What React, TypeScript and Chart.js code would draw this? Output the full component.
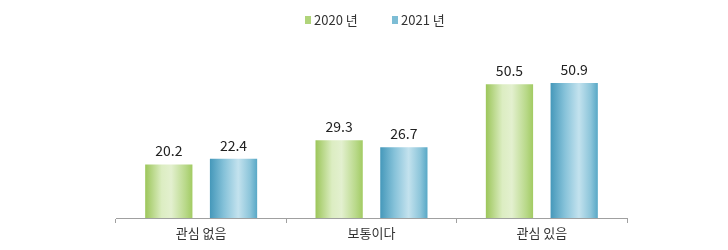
import React, { useEffect, useRef } from "react";
import { Chart, registerables } from "chart.js";

Chart.register(...registerables);

const categories = ["관심 없음", "보통이다", "관심 있음"];
const seriesNames = ["2020 년", "2021 년"];
const values2020 = [20.2, 29.3, 50.5];
const values2021 = [22.4, 26.7, 50.9];

const CAT_PCT = 0.76;
const BAR_PCT = 0.73;
const FONT = "'Noto Sans CJK KR', 'Noto Sans', sans-serif";

const greenStops: [number, string][] = [
  [0, "#9cc65a"],
  [0.35, "#dcedc2"],
  [0.55, "#e3f0cf"],
  [0.85, "#b9d98a"],
  [1, "#a2cb63"],
];
const blueStops: [number, string][] = [
  [0, "#4598ba"],
  [0.3, "#86c2d9"],
  [0.6, "#c3e2ee"],
  [0.85, "#8cc5da"],
  [1, "#58a8c6"],
];

function makeBg(stops: [number, string][], fallback: string) {
  return (ctx: any) => {
    const chart = ctx.chart;
    const xs = chart.scales?.x;
    if (!xs || ctx.dataIndex === undefined) return fallback;
    const n = categories.length;
    const catW = xs.width / n;
    const slot = (catW * CAT_PCT) / 2;
    const barW = slot * BAR_PCT;
    const center = xs.getPixelForValue(ctx.dataIndex) + (ctx.datasetIndex === 0 ? -slot / 2 : slot / 2);
    const x0 = center - barW / 2;
    const x1 = center + barW / 2;
    if (!isFinite(x0) || !isFinite(x1)) return fallback;
    const g = chart.ctx.createLinearGradient(x0, 0, x1, 0);
    stops.forEach(([o, c]) => g.addColorStop(o, c));
    return g;
  };
}

const labelsPlugin = {
  id: "customLabels",
  afterDatasetsDraw(chart: any) {
    const c = chart.ctx;
    c.save();
    c.font = `14px ${FONT}`;
    c.fillStyle = "#222";
    c.textAlign = "center";
    c.textBaseline = "alphabetic";
    chart.data.datasets.forEach((ds: any, di: number) => {
      const meta = chart.getDatasetMeta(di);
      meta.data.forEach((bar: any, i: number) => {
        c.fillText(ds.data[i].toFixed(1), bar.x, bar.y - 8);
      });
    });
    // legend
    const legendColors = ["#b0d47a", "#7dbdd5"];
    const legendX = [305, 392];
    c.font = `13px ${FONT}`;
    c.textAlign = "left";
    c.textBaseline = "middle";
    seriesNames.forEach((name, i) => {
      c.fillStyle = legendColors[i];
      c.fillRect(legendX[i], 16, 6, 8);
      c.fillStyle = "#333";
      c.fillText(name, legendX[i] + 9, 20);
    });
    c.restore();
  },
};

export default function App() {
  const ref = useRef<HTMLCanvasElement | null>(null);
  useEffect(() => {
    if (!ref.current) return;
    const chart = new Chart(ref.current, {
      type: "bar",
      data: {
        labels: categories,
        datasets: [
          {
            label: seriesNames[0],
            data: values2020,
            backgroundColor: makeBg(greenStops, "#b5d684"),
            categoryPercentage: CAT_PCT,
            barPercentage: BAR_PCT,
            borderWidth: 0,
          },
          {
            label: seriesNames[1],
            data: values2021,
            backgroundColor: makeBg(blueStops, "#7dbdd5"),
            categoryPercentage: CAT_PCT,
            barPercentage: BAR_PCT,
            borderWidth: 0,
          },
        ],
      },
      options: {
        animation: false,
        responsive: false,
        maintainAspectRatio: false,
        layout: { padding: { left: 116, right: 101, top: 59, bottom: 0 } },
        plugins: { legend: { display: false }, tooltip: { enabled: false } },
        scales: {
          x: {
            afterFit: (s: any) => {
              s.height = 32;
            },
            grid: {
              offset: true,
              drawOnChartArea: false,
              drawTicks: true,
              tickLength: 5,
              color: "#a0a0a0",
            },
            border: { color: "#a0a0a0", width: 1 },
            ticks: {
              color: "#333",
              font: { family: FONT, size: 13 },
              padding: 2,
            },
          },
          y: {
            display: false,
            min: 0,
            max: 60,
          },
        },
      },
      plugins: [labelsPlugin],
    });
    return () => chart.destroy();
  }, []);
  return (
    <div style={{ position: "fixed", left: 0, top: 0, width: 728, height: 250, background: "#fff" }}>
      <canvas ref={ref} width={728} height={250} style={{ width: 728, height: 250 }} />
    </div>
  );
}
